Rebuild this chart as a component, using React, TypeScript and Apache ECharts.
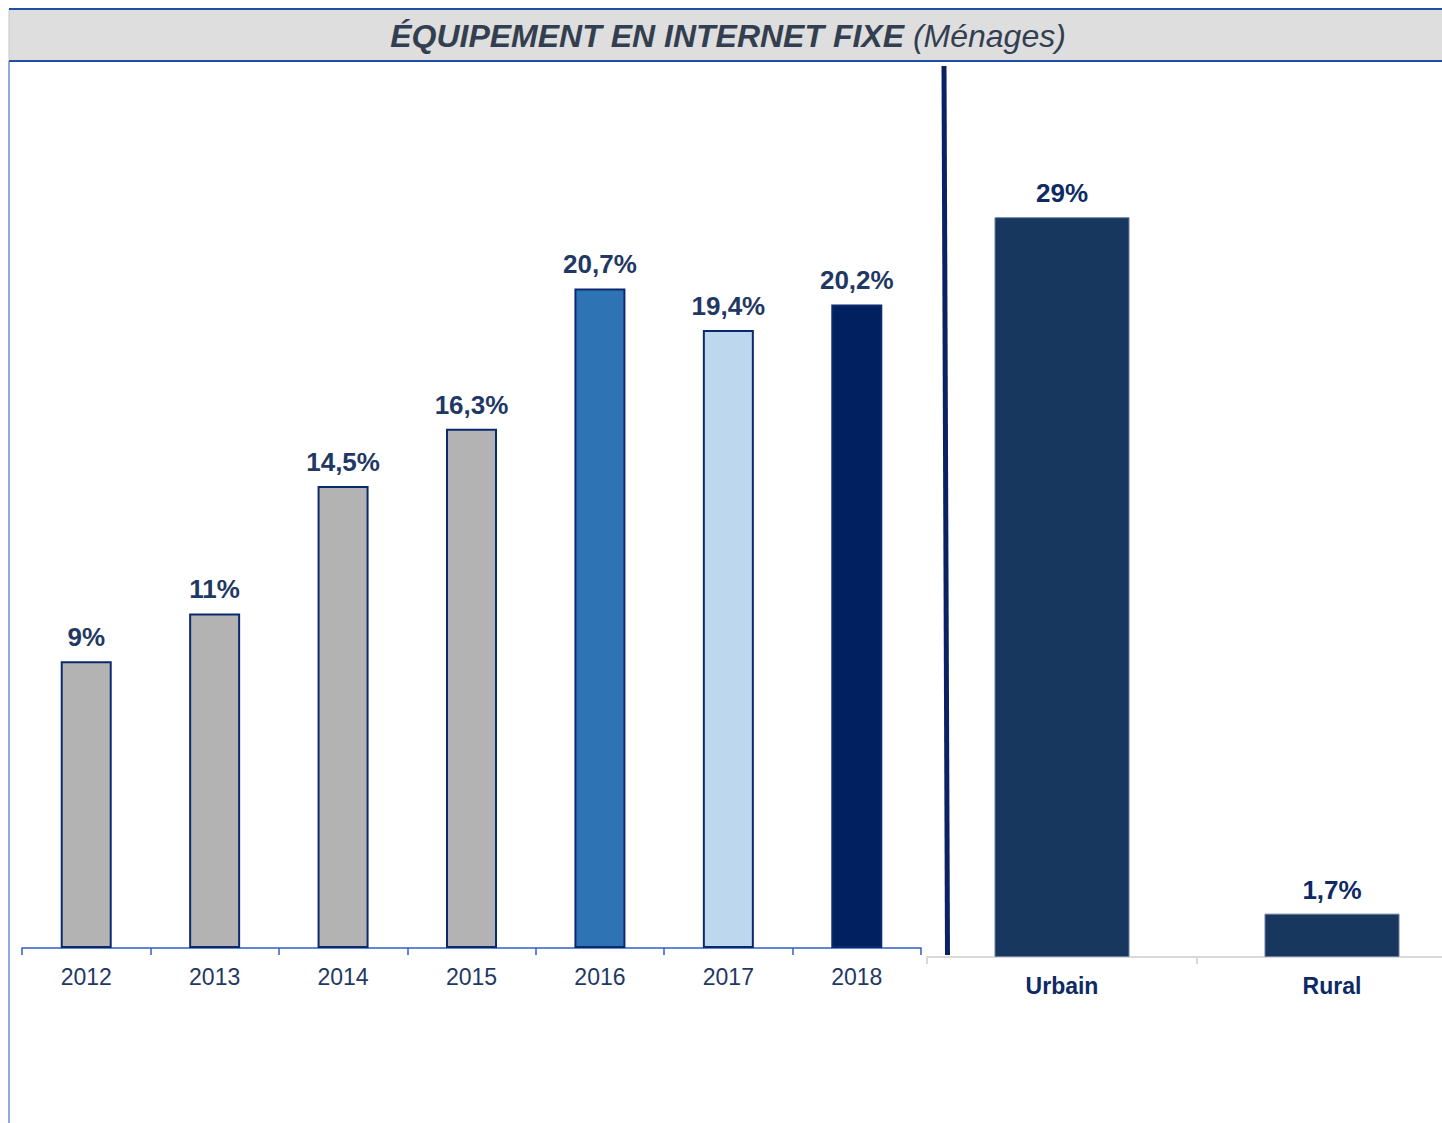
import React, { useEffect, useRef } from "react";
import * as echarts from "echarts";

const years = ["2012", "2013", "2014", "2015", "2016", "2017", "2018"];
const yearValues = [9, 10.5, 14.5, 16.3, 20.7, 19.4, 20.2];
const yearLabels = ["9%", "11%", "14,5%", "16,3%", "20,7%", "19,4%", "20,2%"];
const yearColors = ["#b3b3b3", "#b3b3b3", "#b3b3b3", "#b3b3b3", "#2e74b5", "#bdd7ee", "#002060"];

const zones = ["Urbain", "Rural"];
const zoneValues = [29, 1.7];
const zoneLabels = ["29%", "1,7%"];

const FONT = "'Liberation Sans', Arial, sans-serif";

export default function App() {
  const ref = useRef<HTMLDivElement>(null);
  useEffect(() => {
    document.body.style.margin = "0";
    document.body.style.overflow = "hidden";
    document.documentElement.style.overflow = "hidden";
    const chart = echarts.init(ref.current!, null, { renderer: "svg" });
    chart.setOption({
      animation: false,
      backgroundColor: "#ffffff",
      textStyle: { fontFamily: FONT },
      grid: [
        { left: 22, width: 899, top: 151.5, bottom: 175, containLabel: false },
        { left: 927, width: 540, top: 140.7, bottom: 166, containLabel: false },
      ],
      xAxis: [
        {
          type: "category",
          gridIndex: 0,
          data: years,
          axisLine: { lineStyle: { color: "#2f5fc0", width: 1.5 } },
          axisTick: { show: true, length: 7, lineStyle: { color: "#2f5fc0", width: 1.5 } },
          axisLabel: { color: "#1f3864", fontSize: 23, fontFamily: FONT, margin: 17 },
        },
        {
          type: "category",
          gridIndex: 1,
          data: zones,
          axisLine: { lineStyle: { color: "#d9d9d9", width: 2 } },
          axisTick: { show: true, length: 7, lineStyle: { color: "#d9d9d9", width: 2 } },
          axisLabel: { color: "#0d2a66", fontSize: 23, fontWeight: "bold", fontFamily: FONT, margin: 17 },
        },
      ],
      yAxis: [
        { type: "value", gridIndex: 0, min: 0, max: 25, show: false, splitLine: { show: false } },
        { type: "value", gridIndex: 1, min: 0, max: 32, show: false, splitLine: { show: false } },
      ],
      series: [
        {
          type: "bar",
          xAxisIndex: 0,
          yAxisIndex: 0,
          barWidth: 51,
          data: yearValues.map((v, i) => ({
            value: v,
            itemStyle: {
              color: yearColors[i],
              borderColor: "#0b2a6e",
              borderWidth: 2,
            },
          })),
          label: {
            show: true,
            position: "top",
            distance: 11,
            color: "#1f3864",
            fontSize: 26,
            fontWeight: "bold",
            fontFamily: FONT,
            formatter: (p: any) => yearLabels[p.dataIndex],
          },
        },
        {
          type: "bar",
          xAxisIndex: 1,
          yAxisIndex: 1,
          barWidth: 135,
          data: zoneValues,
          itemStyle: { color: "#17375e", borderColor: "#6a7d9c", borderWidth: 1 },
          label: {
            show: true,
            position: "top",
            distance: 11,
            color: "#0d2a66",
            fontSize: 26,
            fontWeight: "bold",
            fontFamily: FONT,
            formatter: (p: any) => zoneLabels[p.dataIndex],
          },
        },
      ],
      graphic: [
        {
          type: "rect",
          shape: { x: 9, y: 9, width: 1460, height: 52 },
          style: { fill: "#dedede", stroke: "#c8c8c8", lineWidth: 1 },
          z: 1,
        },
        {
          type: "line",
          shape: { x1: 9, y1: 9, x2: 1467, y2: 9 },
          style: { stroke: "#1f4ea3", lineWidth: 2 },
          z: 2,
        },
        {
          type: "line",
          shape: { x1: 9, y1: 61, x2: 1467, y2: 61 },
          style: { stroke: "#1f4ea3", lineWidth: 2 },
          z: 2,
        },
        {
          type: "line",
          shape: { x1: 9, y1: 61, x2: 9, y2: 1123 },
          style: { stroke: "#4a72c4", lineWidth: 1.2 },
          z: 2,
        },
        {
          type: "line",
          shape: { x1: 944, y1: 66, x2: 947.5, y2: 955 },
          style: { stroke: "#0a2264", lineWidth: 5 },
          z: 2,
        },
        {
          type: "text",
          x: 728,
          y: 36,
          z: 3,
          style: {
            text: "{b|ÉQUIPEMENT EN INTERNET FIXE}{i|\u00a0(Ménages)}",
            align: "center",
            verticalAlign: "middle",
            rich: {
              b: { fontSize: 32, fontWeight: "bold", fontStyle: "italic", fill: "#333f50", fontFamily: FONT },
              i: { fontSize: 32, fontWeight: "normal", fontStyle: "italic", fill: "#333f50", fontFamily: FONT },
            },
          },
        },
      ],
    });
    return () => chart.dispose();
  }, []);
  return <div ref={ref} style={{ width: 1467, height: 1123 }} />;
}
